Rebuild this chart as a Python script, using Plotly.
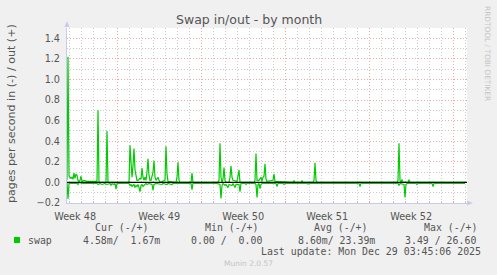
import pandas as pd
import plotly.graph_objects as go

# ---------------- data ----------------
end_time = pd.Timestamp("2025-12-29 03:45:06")
start_time = end_time - pd.Timedelta(hours=800)

# swap out (+), hours after graph start
out_hours = [0, 2, 4, 6, 8, 10, 12, 14, 16, 18, 20, 22, 24, 26, 28, 30, 34, 40, 50, 60,
             62, 64, 78, 80, 82, 124, 126, 128, 130, 132, 134, 136, 138, 140, 142, 146,
             148, 150, 152, 154, 156, 158, 160, 162, 164, 166, 168, 170, 172, 174, 176,
             178, 180, 182, 184, 186, 196, 198, 200, 202, 218, 220, 222, 224, 226, 248,
             250, 252, 302, 304, 306, 308, 310, 312, 314, 316, 318, 324, 326, 328, 330,
             332, 340, 342, 344, 346, 374, 376, 378, 380, 384, 388, 390, 392, 394, 396,
             398, 400, 412, 414, 416, 452, 454, 456, 468, 470, 472, 492, 494, 496, 498,
             500, 660, 662, 664, 666, 668, 670, 672, 682, 684, 686, 796]
out_vals = [0.02, 1.22, 0.06, 0.05, 0.04, 0.05, 0.03, 0.09, 0.04, 0.08, 0.07, 0.02, 0.01,
            0.02, 0.06, 0.01, 0.02, 0.01, 0.01, 0.01,
            0.70, 0.0, 0.0, 0.50, 0.0, 0.0, 0.36, 0.18, 0.05, 0.16, 0.33, 0.12, 0.04, 0.02,
            0.02, 0.04,
            0.03, 0.14, 0.05, 0.02, 0.05, 0.02, 0.10, 0.23, 0.07, 0.02, 0.02, 0.06, 0.10,
            0.21, 0.05,
            0.02, 0.03, 0.05, 0.02, 0.0, 0.02, 0.35, 0.08, 0.01, 0.0, 0.05, 0.195, 0.02,
            0.0, 0.0,
            0.09, 0.0, 0.0, 0.02, 0.38, 0.05, 0.0, 0.03, 0.145, 0.02, 0.0, 0.0, 0.05, 0.16,
            0.05,
            0.02, 0.01, 0.06, 0.12, 0.0, 0.0, 0.02, 0.28, 0.02, 0.02, 0.05, 0.01, 0.05,
            0.06, 0.18,
            0.03, 0.01, 0.02, 0.08, 0.01, 0.0, 0.015, 0.0, 0.0, 0.015, 0.0, 0.0, 0.02, 0.19,
            0.02,
            0.0, 0.0, 0.02, 0.38, 0.02, 0.0, 0.03, 0.0, 0.0, 0.025, 0.0, 0.0]

# swap in (-), hours after graph start, magnitudes
in_hours = [0, 2, 4, 20, 22, 24, 30, 60, 62, 66, 70, 76, 80, 86, 88, 90, 94, 96, 98, 100,
            124, 126, 128, 130, 132, 134, 136, 138, 140, 142, 144, 146, 148, 150, 152, 154,
            158, 160, 164, 170, 172, 174, 178, 190, 192, 200, 202, 210, 212, 248, 250, 252,
            300, 306, 308, 310, 312, 316, 318, 322, 324, 330, 332, 336, 338, 344, 346, 348,
            356, 358, 360, 376, 378, 380, 382, 384, 386, 388, 390, 418, 420, 422, 432, 434,
            436, 480, 482, 484, 502, 504, 506, 584, 586, 588, 662, 664, 666, 674, 676, 678,
            680, 698, 700, 702, 730, 732, 734, 796]
in_vals = [0.0, 0.16, 0.01, 0.01, 0.02, 0.0, 0.01, 0.01, 0.02, 0.01, 0.02, 0.01, 0.02, 0.01,
           0.03, 0.01, 0.02, 0.01, 0.065, 0.01,
           0.01, 0.03, 0.02, 0.04, 0.03, 0.02, 0.05, 0.03, 0.04, 0.02, 0.05, 0.09, 0.03,
           0.02, 0.04, 0.03,
           0.01, 0.02, 0.01, 0.02, 0.075, 0.02, 0.01, 0.02, 0.01, 0.02, 0.01, 0.02, 0.01,
           0.01, 0.07, 0.01,
           0.01, 0.02, 0.155, 0.03, 0.01, 0.03, 0.02, 0.05, 0.02, 0.03, 0.01, 0.05, 0.02,
           0.02, 0.09, 0.01,
           0.01, 0.02, 0.01, 0.01, 0.02, 0.145, 0.02, 0.01, 0.06, 0.02, 0.01, 0.01, 0.04,
           0.01, 0.01, 0.02,
           0.01, 0.01, 0.015, 0.01, 0.008, 0.012, 0.008, 0.01, 0.04, 0.01, 0.01, 0.03,
           0.01, 0.02, 0.145, 0.02,
           0.01, 0.01, 0.02, 0.01, 0.01, 0.04, 0.01, 0.01]

week_label_times = ["2025-11-26 12:00", "2025-12-03 12:00", "2025-12-10 12:00",
                    "2025-12-17 12:00", "2025-12-24 12:00"]
week_labels = ["Week 48", "Week 49", "Week 50", "Week 51", "Week 52"]

legend_headers = ["Cur (-/+)", "Min (-/+)", "Avg (-/+)", "Max (-/+)"]
legend_values = ["4.58m/  1.67m", "0.00 /  0.00", "8.60m/ 23.39m", "3.49 / 26.60"]
series_name = "swap"
title_text = "Swap in/out - by month"
y_title = "pages per second in (-) / out (+)"
last_update = "Last update: Mon Dec 29 03:45:06 2025"

# ---------------- layout helpers ----------------
W, H = 497, 275
L, R, T, B = 67, 467, 28, 203


def px(x):
    return (x - L) / (R - L)


def py(y):
    return (B - y) / (B - T)


GREEN = "#00CC00"
FONT = "DejaVu Sans"
MONO = "DejaVu Sans Mono"
TXT = "#555555"

out_x = [start_time + pd.Timedelta(hours=h) for h in out_hours]
in_x = [start_time + pd.Timedelta(hours=h) for h in in_hours]

fig = go.Figure()
fig.add_trace(go.Scatter(x=in_x, y=[-v for v in in_vals], mode="lines",
                         line=dict(color=GREEN, width=1.2), hoverinfo="skip",
                         showlegend=False))
fig.add_trace(go.Scatter(x=out_x, y=out_vals, mode="lines",
                         line=dict(color=GREEN, width=1.2), hoverinfo="skip",
                         showlegend=False))
# invisible trace to carry the week-label axis
fig.add_trace(go.Scatter(x=pd.to_datetime(week_label_times), y=[0] * 5, xaxis="x2",
                         mode="markers", marker=dict(opacity=0), hoverinfo="skip",
                         showlegend=False))

xr = [start_time, end_time]
fig.update_layout(
    width=W, height=H,
    margin=dict(l=L, r=W - R, t=T, b=H - B, pad=0),
    paper_bgcolor="#F0F0F0", plot_bgcolor="#FFFFFF",
    font=dict(family=FONT, size=9.7, color=TXT),
    showlegend=False,
    xaxis=dict(
        type="date", range=xr, showticklabels=False,
        tickmode="linear", tick0="2025-11-30 00:00", dtick=7 * 86400000,
        showgrid=True, gridcolor="#F0A8A8", griddash="1px,2px", gridwidth=1,
        ticks="inside", ticklen=2, tickcolor="#F0A0A0",
        minor=dict(tick0="2025-11-30 00:00", dtick=86400000, showgrid=True,
                   gridcolor="#CCCCCC", griddash="1px,2px", gridwidth=1,
                   ticks="inside", ticklen=2, tickcolor="#C8C8C8"),
        showline=True, linecolor="#C8CCEA", linewidth=1, zeroline=False,
    ),
    xaxis2=dict(
        type="date", range=xr, overlaying="x", anchor="y", side="bottom",
        tickmode="array", tickvals=pd.to_datetime(week_label_times), ticktext=week_labels,
        showgrid=False, zeroline=False, ticks="outside", ticklen=4,
        tickcolor="rgba(0,0,0,0)", tickfont=dict(family=FONT, size=9.7, color=TXT),
    ),
    yaxis=dict(
        range=[-0.2, 1.5], tickmode="linear", tick0=0, dtick=0.2, tickformat=".1f",
        showgrid=True, gridcolor="#F0A8A8", griddash="1px,2px", gridwidth=1,
        minor=dict(dtick=0.1, showgrid=True, gridcolor="#CCCCCC",
                   griddash="1px,2px", gridwidth=1),
        ticks="outside", ticklen=4, tickcolor="rgba(0,0,0,0)",
        showline=True, linecolor="#C8CCEA", linewidth=1, zeroline=False,
        tickfont=dict(family=FONT, size=9.7, color=TXT),
    ),
)

shapes = []
# black zero rule on top of the data
shapes.append(dict(type="line", xref="paper", yref="y", x0=0, x1=1, y0=0, y1=0,
                   line=dict(color="#000000", width=1.4), layer="above"))
# axis arrows
shapes.append(dict(type="path", xref="paper", yref="paper",
                   path=f"M {px(64.5)} {py(27)} L {px(69.5)} {py(27)} L {px(67)} {py(21)} Z",
                   fillcolor="#C8CCEA", line=dict(width=0), layer="above"))
shapes.append(dict(type="path", xref="paper", yref="paper",
                   path=f"M {px(467)} {py(200.5)} L {px(467)} {py(205.5)} L {px(473)} {py(203)} Z",
                   fillcolor="#C8CCEA", line=dict(width=0), layer="above"))
# legend swatch
shapes.append(dict(type="rect", xref="paper", yref="paper",
                   x0=px(14), x1=px(20), y0=py(243), y1=py(237),
                   fillcolor=GREEN, line=dict(width=0)))
fig.update_layout(shapes=shapes)

ann = []
ann.append(dict(text=title_text, x=px(248.7), y=py(19.5), xref="paper", yref="paper",
                showarrow=False, xanchor="center", yanchor="middle",
                font=dict(family=FONT, size=12.5, color=TXT)))
ann.append(dict(text=y_title, x=px(11), y=py(114), xref="paper", yref="paper",
                showarrow=False, xanchor="center", yanchor="middle", textangle=-90,
                font=dict(family=FONT, size=11.1, color=TXT)))
ann.append(dict(text="RRDTOOL / TOBI OETIKER", x=px(488), y=py(53), xref="paper",
                yref="paper", showarrow=False, xanchor="center", yanchor="middle",
                textangle=90, font=dict(family=FONT, size=7.4, color="#C4C4C4")))
header_x = [94.3, 204, 313.3, 422.7]
value_x = [82.3, 190, 296.7, 404]
for hx, htxt in zip(header_x, legend_headers):
    ann.append(dict(text=htxt.replace(" ", "&nbsp;"), x=px(hx), y=py(227), xref="paper",
                    yref="paper", showarrow=False, xanchor="left", yanchor="middle",
                    font=dict(family=MONO, size=9.9, color=TXT)))
for vx, vtxt in zip(value_x, legend_values):
    ann.append(dict(text=vtxt.replace(" ", "&nbsp;"), x=px(vx), y=py(240), xref="paper",
                    yref="paper", showarrow=False, xanchor="left", yanchor="middle",
                    font=dict(family=MONO, size=9.9, color=TXT)))
ann.append(dict(text=series_name, x=px(26.7), y=py(240), xref="paper", yref="paper",
                showarrow=False, xanchor="left", yanchor="middle",
                font=dict(family=MONO, size=9.9, color=TXT)))
ann.append(dict(text=last_update, x=px(482.3), y=py(251.7), xref="paper", yref="paper",
                showarrow=False, xanchor="right", yanchor="middle",
                font=dict(family=MONO, size=9.9, color=TXT)))
ann.append(dict(text="Munin 2.0.57", x=px(248), y=py(263.7), xref="paper", yref="paper",
                showarrow=False, xanchor="center", yanchor="middle",
                font=dict(family=FONT, size=7.5, color="#C4C4C4")))
for a in ann:
    a["borderpad"] = 0
fig.update_layout(annotations=ann)

fig.write_html("out.html")
